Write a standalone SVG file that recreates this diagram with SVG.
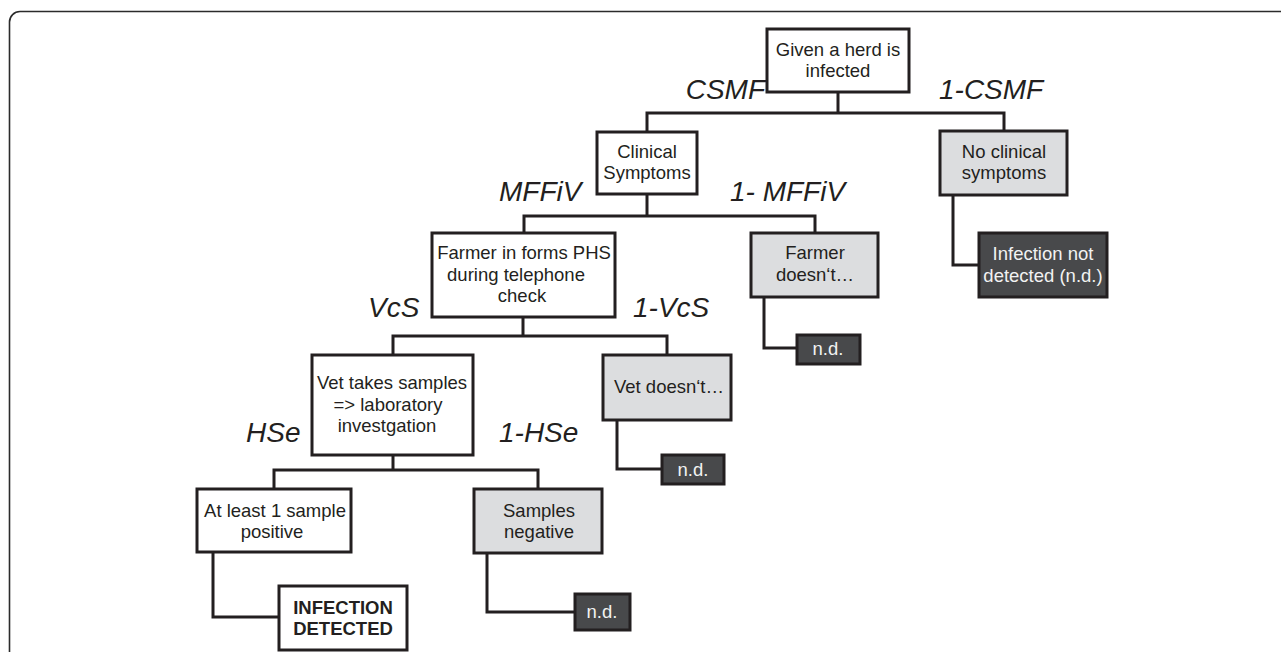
<svg xmlns="http://www.w3.org/2000/svg" width="1281" height="652" viewBox="0 0 1281 652">
<style>
.box{stroke:#231f20;stroke-width:3;fill:#ffffff}
.gray{fill:#dcdddf}
.dark{fill:#48494b}
.t{font-family:"Liberation Sans",Arial,sans-serif;font-size:18.5px;fill:#231f20;text-anchor:middle}
.tw{fill:#f2f2f2}
.b{font-weight:bold}
.lbl{font-family:"Liberation Sans",Arial,sans-serif;font-size:28px;font-style:italic;fill:#231f20}
.c{fill:none;stroke:#231f20;stroke-width:3}
</style>
<rect width="1281" height="652" fill="#ffffff"/>
<path d="M9.5,660 V22 A10.5,10.5 0 0 1 20,11.5 H1290" fill="none" stroke="#2b2b2b" stroke-width="1.6"/>
<g id="connectors">
<path class="c" d="M838,92 V113"/>
<path class="c" d="M647,132 V113 H1004 V131"/>
<path class="c" d="M953,195 V265 H979"/>
<path class="c" d="M647,194 V216"/>
<path class="c" d="M524,233 V216 H815 V233"/>
<path class="c" d="M764,297 V348 H797"/>
<path class="c" d="M523,317 V336"/>
<path class="c" d="M393,355 V336 H667 V355"/>
<path class="c" d="M617,420 V469 H662"/>
<path class="c" d="M393,455 V470"/>
<path class="c" d="M274,489 V470 H538 V489"/>
<path class="c" d="M213,553 V617 H279"/>
<path class="c" d="M487,553 V612 H575"/>
</g>
<g id="labels">
<text class="lbl" x="765" y="99" text-anchor="end">CSMF</text>
<text class="lbl" x="939" y="99">1-CSMF</text>
<text class="lbl" x="499" y="201">MFFiV</text>
<text class="lbl" x="730" y="201">1- MFFiV</text>
<text class="lbl" x="368" y="317">VcS</text>
<text class="lbl" x="633" y="317">1-VcS</text>
<text class="lbl" x="246" y="442">HSe</text>
<text class="lbl" x="499" y="442">1-HSe</text>
</g>
<g id="root">
<rect class="box" x="767" y="29" width="142" height="63"/>
<text class="t" x="838" y="56">Given a herd is</text>
<text class="t" x="838" y="77">infected</text>
</g>
<g id="no-clinical">
<rect class="box gray" x="940" y="131" width="127" height="64"/>
<text class="t" x="1004" y="158">No clinical</text>
<text class="t" x="1004" y="179">symptoms</text>
</g>
<g id="not-detected-1">
<rect class="box dark" x="979" y="233" width="128" height="64"/>
<text class="t tw" x="1043" y="260">Infection not</text>
<text class="t tw" x="1043" y="282">detected (n.d.)</text>
</g>
<g id="clinical">
<rect class="box" x="597" y="132" width="100" height="62"/>
<text class="t" x="647" y="158">Clinical</text>
<text class="t" x="647" y="179">Symptoms</text>
</g>
<g id="farmer">
<rect class="box" x="432" y="233" width="183" height="84"/>
<text class="t" x="524" y="259">Farmer in forms PHS</text>
<text class="t" x="516" y="281">during telephone</text>
<text class="t" x="522" y="302">check</text>
</g>
<g id="farmer-doesnt">
<rect class="box gray" x="751" y="233" width="127" height="64"/>
<text class="t" x="815" y="259">Farmer</text>
<text class="t" x="815" y="281">doesn‘t…</text>
</g>
<g id="nd-farmer">
<rect class="box dark" x="797" y="335" width="63" height="29"/>
<text class="t tw" x="828" y="355">n.d.</text>
</g>
<g id="vet">
<rect class="box" x="312" y="355" width="161" height="100"/>
<text class="t" x="392" y="389">Vet takes samples</text>
<text class="t" x="388" y="411">=&gt; laboratory</text>
<text class="t" x="387" y="432">investgation</text>
</g>
<g id="vet-doesnt">
<rect class="box gray" x="603" y="355" width="128" height="65"/>
<text class="t" x="669" y="393">Vet doesn‘t…</text>
</g>
<g id="nd-vet">
<rect class="box dark" x="662" y="455" width="62" height="29"/>
<text class="t tw" x="693" y="476">n.d.</text>
</g>
<g id="at-least">
<rect class="box" x="197" y="489" width="154" height="63"/>
<text class="t" x="275" y="517">At least 1 sample</text>
<text class="t" x="272" y="538">positive</text>
</g>
<g id="detected">
<rect class="box" x="279" y="586" width="128" height="64"/>
<text class="t b" x="343" y="614">INFECTION</text>
<text class="t b" x="343" y="635">DETECTED</text>
</g>
<g id="samples-negative">
<rect class="box gray" x="474" y="489" width="128" height="64"/>
<text class="t" x="539" y="517">Samples</text>
<text class="t" x="539" y="538">negative</text>
</g>
<g id="nd-samples">
<rect class="box dark" x="575" y="594" width="55" height="36"/>
<text class="t tw" x="602" y="618">n.d.</text>
</g>
</svg>
